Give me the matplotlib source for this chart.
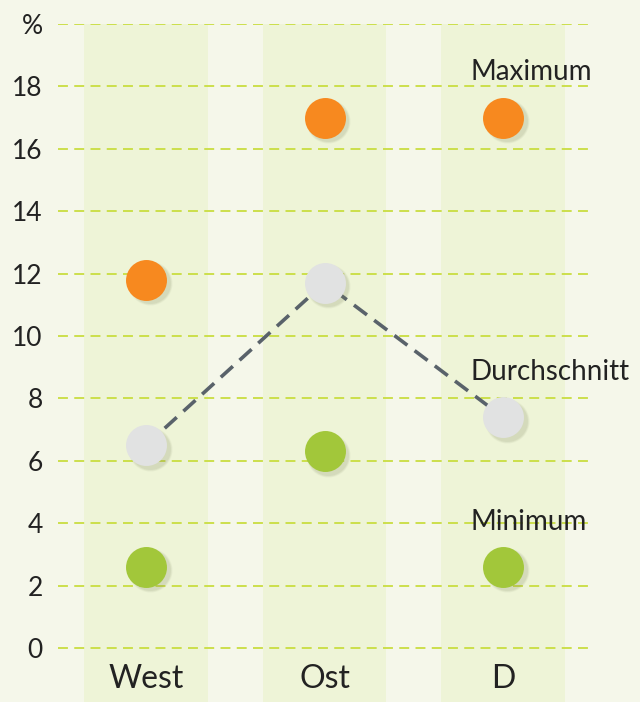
import matplotlib
matplotlib.use("Agg")
import matplotlib.pyplot as plt
import matplotlib.transforms as mtransforms

categories = ["West", "Ost", "D"]
maximum = [11.8, 17.0, 17.0]
average = [6.5, 11.7, 7.4]
minimum = [2.6, 6.3, 2.6]
series_names = ["Maximum", "Durchschnitt", "Minimum"]
yticks = [0, 2, 4, 6, 8, 10, 12, 14, 16, 18, 20]
ytick_labels = ["0", "2", "4", "6", "8", "10", "12", "14", "16", "18", "%"]

BG = "#f5f7ea"
BAND = "#eef4d7"
ORANGE = "#f7891f"
GREY = "#e1e2e2"
GREEN = "#a2c73a"
LINE = "#59626a"
GRID = "#c9dd40"
TXT = "#222222"

plt.rcParams['font.family'] = ['Lato', 'DejaVu Sans']

W, H = 640, 702
fig = plt.figure(figsize=(W / 100, H / 100), dpi=100, facecolor=BG)
ax = fig.add_axes([58 / W, 0, (590 - 58) / W, (702 - 24) / H])
ax.set_facecolor(BG)
ax.set_xlim(-0.493, 2.487)
ax.set_ylim(-1.73, 20)
for s in ax.spines.values():
    s.set_visible(False)

x = list(range(len(categories)))
# column bands
for xi in x:
    ax.axvspan(xi - 0.345, xi + 0.345, color=BAND, zorder=0, lw=0)

# grid
for t in yticks:
    ax.axhline(t, color=GRID, lw=1.3, ls=(0, (5.5, 3.5)), zorder=1)

ax.set_yticks(yticks)
ax.set_yticklabels(ytick_labels)
ax.tick_params(axis='y', length=0, pad=11, labelsize=19, labelcolor=TXT)
ax.set_xticks([])

# average line
ax.plot(x, average, color=LINE, lw=2.6, ls=(0, (4.5, 2.5)), zorder=3)

size = 870
shadow_tr = mtransforms.offset_copy(ax.transData, fig=fig, x=3.5, y=-3.5, units='dots')
for vals in (maximum, average, minimum):
    for k, a in enumerate([0.10, 0.08, 0.06]):
        ax.scatter(x, vals, s=size * (1.0 + 0.08 * k), color="#7d8560", alpha=a,
                   lw=0, transform=shadow_tr, zorder=4, clip_on=False)

ax.scatter(x, maximum, s=size, color=ORANGE, lw=0, zorder=5, clip_on=False)
ax.scatter(x, average, s=size, color=GREY, lw=0, zorder=5, clip_on=False)
ax.scatter(x, minimum, s=size, color=GREEN, lw=0, zorder=5, clip_on=False)

# series labels next to last category
last = x[-1]
for name, vals in zip(series_names, (maximum, average, minimum)):
    ax.text(last - 0.18, vals[-1] + 1.45, name, ha='left', va='center',
            fontsize=20, color=TXT, zorder=6, clip_on=False)

# category labels
for xi, c in zip(x, categories):
    ax.text(xi, -1.0, c, ha='center', va='center', fontsize=23, color=TXT)

fig.savefig("out.png", dpi=100, facecolor=BG)
